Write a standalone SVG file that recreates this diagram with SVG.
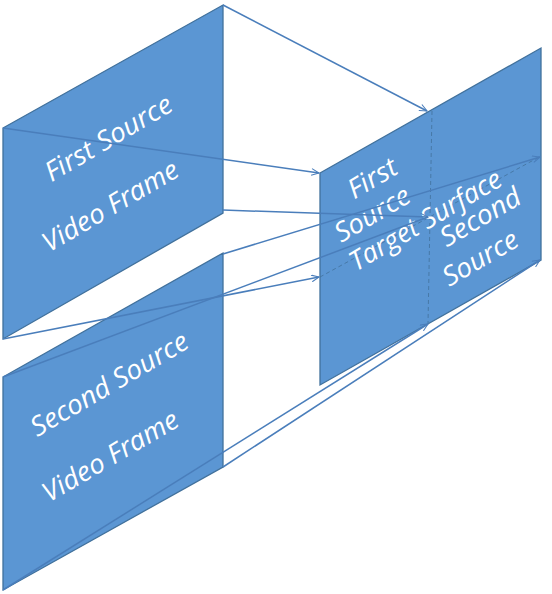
<svg xmlns="http://www.w3.org/2000/svg" width="552" height="594" viewBox="0 0 552 594">
<style>
.frame{fill:#5B96D3;stroke:#41719C;stroke-width:1.3;stroke-linejoin:miter}
.lbl{font-family:"Open Sans","Noto Sans",sans-serif;font-style:italic;font-size:27px;fill:#FFFFFF;text-anchor:middle}
.dash{fill:none;stroke:#41719C;stroke-width:0.8;stroke-dasharray:4 3}
.conn{fill:none;stroke:#4A7EBB;stroke-width:1.5}
.arr{marker-end:url(#ah)}
</style>
<defs>
<marker id="ah" viewBox="0 0 12 10" refX="11" refY="5" markerWidth="9" markerHeight="7.5" markerUnits="userSpaceOnUse" orient="auto">
<path d="M1,0.5 L11,5 L1,9.5" fill="none" stroke="#4A7EBB" stroke-width="1.4"/>
</marker>
</defs>
<g id="first-frame">
<polygon class="frame" points="3,128 223,5 223,213 3,339"/>
<text class="lbl" x="113" y="146" textLength="143" lengthAdjust="spacingAndGlyphs" transform="rotate(-30.5 113 146)">First Source</text>
<text class="lbl" x="115" y="214" textLength="153" lengthAdjust="spacingAndGlyphs" transform="rotate(-30.5 115 214)">Video Frame</text>
</g>
<g id="second-frame">
<polygon class="frame" points="3,377 223,253 223,467 3,590"/>
<text class="lbl" x="114" y="392" textLength="178" lengthAdjust="spacingAndGlyphs" transform="rotate(-30.5 114 392)">Second Source</text>
<text class="lbl" x="115" y="464" textLength="153" lengthAdjust="spacingAndGlyphs" transform="rotate(-30.5 115 464)">Video Frame</text>
</g>
<g id="target-surface">
<polygon class="frame" points="320,173 541,48 541,260 320,385"/>
<line class="dash" x1="432" y1="111" x2="428" y2="324"/>
<line class="dash" x1="320" y1="277" x2="541" y2="156"/>
<text class="lbl" x="377" y="186" textLength="53" lengthAdjust="spacingAndGlyphs" transform="rotate(-30.5 377 186)">First</text>
<text class="lbl" x="377" y="222" textLength="83" lengthAdjust="spacingAndGlyphs" transform="rotate(-30.5 377 222)">Source</text>
<text class="lbl" x="430" y="228" textLength="172" lengthAdjust="spacingAndGlyphs" transform="rotate(-30.5 430 228)">Target Surface</text>
<text class="lbl" x="485" y="225" textLength="89" lengthAdjust="spacingAndGlyphs" transform="rotate(-30.5 485 225)">Second</text>
<text class="lbl" x="485" y="266" textLength="83" lengthAdjust="spacingAndGlyphs" transform="rotate(-30.5 485 266)">Source</text>
</g>
<g id="connectors">
<line class="conn arr" x1="223" y1="5" x2="427" y2="111"/>
<line class="conn arr" x1="3" y1="128" x2="319" y2="173"/>
<line class="conn arr" x1="223" y1="210" x2="428" y2="217"/>
<line class="conn arr" x1="3" y1="339" x2="319" y2="277"/>
<line class="conn arr" x1="223" y1="254" x2="540" y2="157"/>
<line class="conn" x1="3" y1="377" x2="428" y2="217"/>
<line class="conn arr" x1="3" y1="590" x2="428" y2="324"/>
<line class="conn arr" x1="223" y1="467" x2="540" y2="260"/>
</g>
</svg>
